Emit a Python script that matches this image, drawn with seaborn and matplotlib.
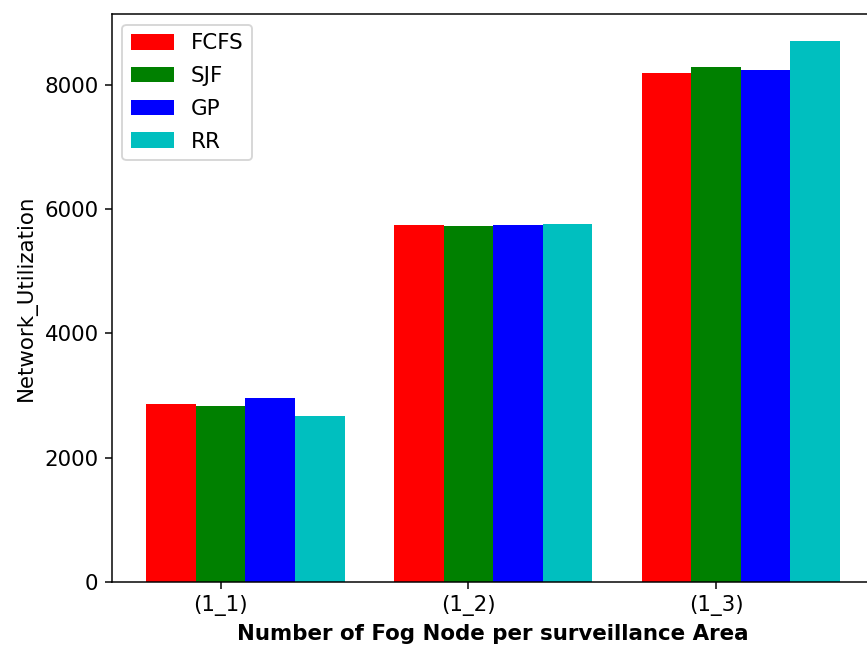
import matplotlib
matplotlib.use("Agg")
import matplotlib.pyplot as plt
import seaborn as sns
import pandas as pd

categories = ["(1_1)", "(1_2)", "(1_3)"]
algorithms = ["FCFS", "SJF", "GP", "RR"]
fcfs = [2856, 5739, 8187]
sjf = [2835, 5732, 8283]
gp = [2952, 5739, 8242]
rr = [2663, 5765, 8700]
colors = ["r", "g", "b", "c"]

series = {"FCFS": fcfs, "SJF": sjf, "GP": gp, "RR": rr}
rows = []
for alg in algorithms:
    for cat, v in zip(categories, series[alg]):
        rows.append({"Area": cat, "Algorithm": alg, "Value": v})
df = pd.DataFrame(rows)

plt.rcParams["font.size"] = 11.4

fig = plt.figure(figsize=(867 / 135, 648 / 135), dpi=135)
ax = fig.add_axes([111.7 / 867, 66 / 648, 763 / 867, 568 / 648])

sns.barplot(data=df, x="Area", y="Value", hue="Algorithm", order=categories,
            hue_order=algorithms, palette=colors, saturation=1, width=0.8,
            linewidth=0, ax=ax, errorbar=None)

ax.set_xticks([i - 0.1 for i in range(len(categories))])
ax.set_xticklabels(categories)
ax.set_xlim(-0.54, 2.54)
ax.set_ylim(0, 1.05 * max(rr))
ax.set_xlabel("Number of Fog Node per surveillance Area", fontweight="bold")
ax.set_ylabel("Network_Utilization")
ax.legend(loc="upper left", labelspacing=0.6, handleheight=0.75)

fig.savefig("out.png", dpi=135)
